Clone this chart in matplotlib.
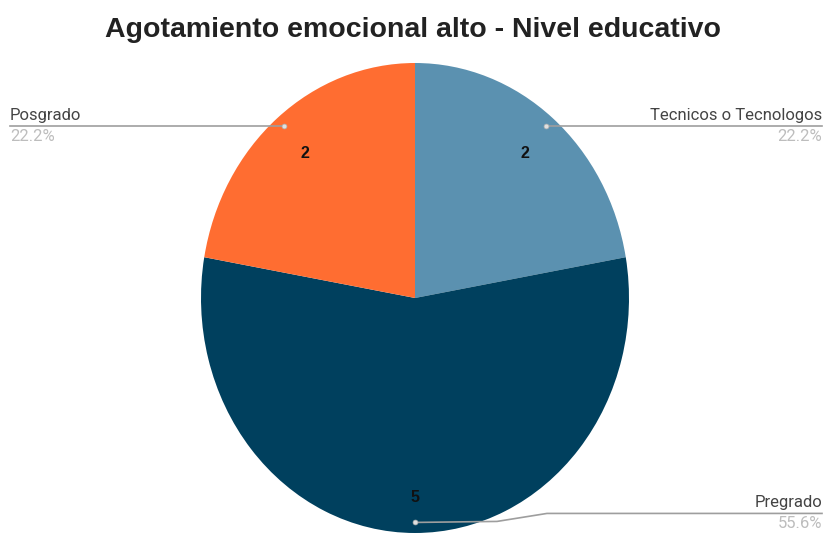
import numpy as np
import matplotlib
matplotlib.use("Agg")
import matplotlib.pyplot as plt
from matplotlib.lines import Line2D

categorias = ['Tecnicos o Tecnologos', 'Pregrado', 'Posgrado']
valores = [2, 5, 2]
colores = ['#5b91b0', '#00405e', '#ff6d31']
titulo = 'Agotamiento emocional alto - Nivel educativo'

W, H = 824, 533
fig = plt.figure(figsize=(W / 100, H / 100), dpi=100)

# pie area in pixels (slightly taller than wide)
cx, cy, rx, ry = 415, 298, 214, 235
ax = fig.add_axes([(cx - rx) / W, (H - cy - ry) / H, 2 * rx / W, 2 * ry / H])

wedges, _ = ax.pie(valores, colors=colores, startangle=90, counterclock=False,
                   radius=1, wedgeprops=dict(linewidth=0))
ax.set_aspect('auto')
ax.set_xlim(-1, 1)
ax.set_ylim(-1, 1)
ax.axis('off')

total = sum(valores)
to_px = ax.transData
dist_valor = [0.80, 0.85, 0.80]

def px(x, y):
    # pixel coords from the top-left corner -> figure fraction
    return x / W, 1 - y / H

for w, cat, v, d in zip(wedges, categorias, valores, dist_valor):
    ang = np.deg2rad((w.theta1 + w.theta2) / 2)
    # count inside the slice
    ax.text(d * np.cos(ang), d * np.sin(ang), str(v), ha='center', va='center',
            fontsize=11.5, fontweight='bold', color='#111111', family='Liberation Sans')
    # leader line from a dot near the rim out to the side
    dx, dy = to_px.transform((0.955 * np.cos(ang), 0.955 * np.sin(ang)))
    dot_x, dot_y = dx, H - dy
    pct = f'{100 * v / total:.1f}%'
    if np.cos(ang) > 0.3:
        xs, ys = [dot_x, 822], [dot_y, dot_y]
        tx, ha = 822, 'right'
    elif np.cos(ang) < -0.3:
        xs, ys = [dot_x, 10], [dot_y, dot_y]
        tx, ha = 10, 'left'
    else:
        ys_end = dot_y - 9
        xs, ys = [dot_x, dot_x + 82, dot_x + 132, 822], [dot_y, dot_y - 1, ys_end, ys_end]
        tx, ha = 822, 'right'
    fx, fy = zip(*[px(a, b) for a, b in zip(xs, ys)])
    fig.add_artist(Line2D(fx, fy, color='#9e9e9e', linewidth=1.2, transform=fig.transFigure))
    fig.add_artist(Line2D([fx[0]], [fy[0]], marker='o', markersize=3.5, color='#e0e0e0',
                          markeredgecolor='#b0b0b0', markeredgewidth=0.5,
                          transform=fig.transFigure))
    ly = ys[-1]
    fig.text(*px(tx, ly - 3), cat, ha=ha, va='bottom', fontsize=12,
             color='#444444', family='Roboto')
    fig.text(*px(tx, ly + 3), pct, ha=ha, va='top', fontsize=12,
             color='#bdbdbd', family='Roboto')

fig.text(*px(413, 30), titulo, ha='center', va='center', fontsize=20.5,
         fontweight='bold', color='#222222', family='Liberation Sans')

fig.savefig('out.png', dpi=100, facecolor='white')
